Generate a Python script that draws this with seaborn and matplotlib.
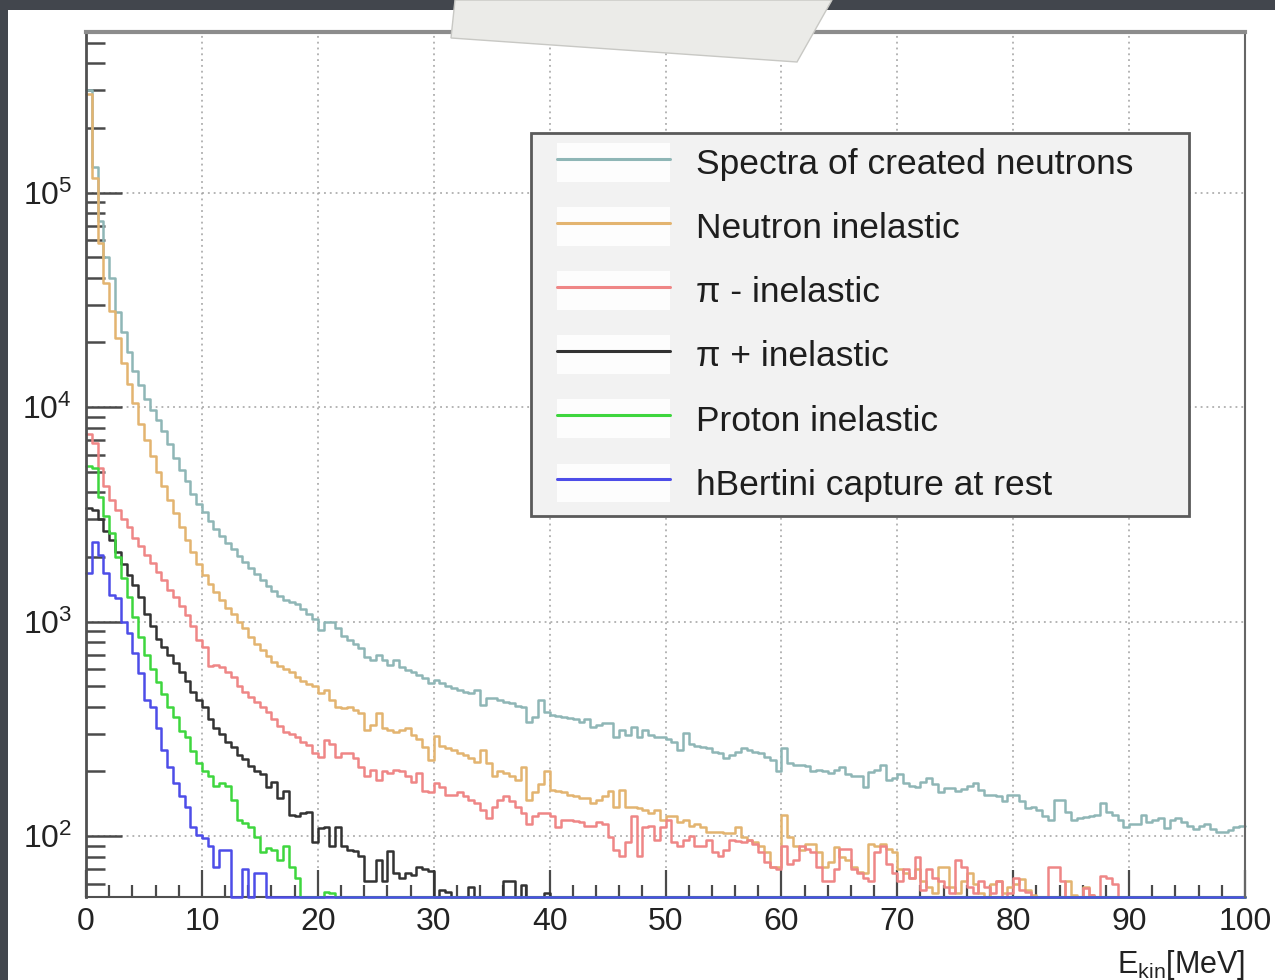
import numpy as np
import matplotlib
matplotlib.use("Agg")
import matplotlib.pyplot as plt
from matplotlib.patches import Rectangle, Polygon
from matplotlib.lines import Line2D
from matplotlib.legend_handler import HandlerTuple
from matplotlib.ticker import LogLocator, MultipleLocator, NullFormatter
import seaborn as sns

# ---------------------------------------------------------------
# Kinetic-energy spectra of neutrons, 0.5 MeV bins from 0 to 100 MeV
# (entries per bin; 0 = below the displayed range)
# ---------------------------------------------------------------
E_MIN, E_MAX, BIN_WIDTH = 0.0, 100.0, 0.5

created_neutrons = [
    300000, 131000, 74000, 50000, 40000, 27600, 22300, 18000, 14800, 12600,
    10900, 9700, 8700, 7700, 6700, 5800, 5100, 4500, 3950, 3550,
    3250, 2950, 2700, 2500, 2330, 2180, 2030, 1900, 1780, 1660,
    1560, 1470, 1390, 1310, 1260, 1240, 1210, 1140, 1090, 1030,
    912, 1000, 990, 930, 860, 819, 790, 750, 680, 661,
    700, 661, 628, 661, 616, 594, 580, 563, 546, 516,
    533, 516, 500, 489, 479, 470, 465, 479, 408, 440,
    440, 430, 420, 415, 405, 400, 340, 360, 430, 378,
    367, 363, 360, 357, 353, 340, 353, 322, 328, 335,
    335, 289, 312, 295, 322, 289, 312, 295, 289, 289,
    285, 275, 252, 302, 270, 262, 259, 256, 247, 244,
    230, 238, 247, 256, 252, 247, 244, 234, 226, 200,
    256, 219, 215, 215, 212, 200, 203, 200, 196, 203,
    210, 194, 190, 190, 170, 198, 203, 215, 183, 186,
    194, 177, 172, 170, 179, 186, 174, 160, 168, 168,
    162, 166, 172, 177, 164, 156, 156, 153, 145, 156,
    156, 145, 135, 137, 132, 124, 119, 147, 147, 130,
    119, 122, 123, 124, 126, 143, 130, 126, 119, 110,
    114, 114, 126, 116, 119, 122, 109, 119, 122, 116,
    112, 108, 112, 114, 108, 104, 104, 107, 110, 112,
]

neutron_inelastic = [
    289000, 117000, 58000, 38000, 28000, 21000, 16000, 12800, 10400, 8300,
    7000, 5900, 5000, 4300, 3700, 3200, 2750, 2400, 2100, 1850,
    1650, 1500, 1370, 1260, 1160, 1080, 1000, 930, 850, 790,
    740, 690, 650, 620, 600, 580, 550, 530, 510, 500,
    465, 479, 430, 400, 396, 400, 386, 373, 312, 328,
    373, 318, 312, 306, 312, 318, 295, 285, 259, 226,
    292, 263, 256, 252, 244, 238, 230, 221, 252, 219,
    190, 200, 197, 190, 183, 210, 147, 160, 175, 200,
    164, 162, 160, 156, 153, 151, 151, 143, 147, 153,
    162, 137, 164, 137, 137, 135, 132, 128, 132, 119,
    124, 124, 116, 119, 112, 114, 110, 104, 104, 104,
    103, 103, 110, 99, 96, 94, 90, 84, 72, 72,
    125, 99, 90, 86, 92, 92, 84, 72, 76, 89,
    80, 77, 72, 68, 67, 92, 90, 92, 87, 84,
    70, 67, 64, 70, 62, 58, 54, 72, 72, 58,
    54, 62, 67, 60, 54, 52, 60, 62, 54, 58,
    60, 63, 56, 53, 0, 0, 0, 0, 0, 62,
    53, 0, 58, 53, 0, 0, 0, 0, 0, 0,
    0, 0, 0, 0, 0, 0, 0, 0, 0, 0,
    0, 0, 0, 0, 0, 0, 0, 0, 0, 0,
]

pi_minus_inelastic = [
    7500, 6800, 5200, 4300, 3700, 3300, 3000, 2750, 2450, 2250,
    2050, 1880, 1700, 1560, 1400, 1300, 1180, 1070, 950, 820,
    760, 620, 630, 612, 580, 550, 500, 470, 445, 420,
    400, 380, 350, 325, 305, 300, 290, 275, 265, 245,
    233, 280, 270, 233, 244, 244, 230, 210, 190, 203,
    183, 200, 197, 203, 200, 190, 179, 197, 162, 160,
    177, 170, 155, 156, 160, 153, 147, 143, 132, 122,
    137, 147, 153, 145, 137, 128, 114, 124, 128, 128,
    124, 110, 119, 119, 118, 116, 112, 111, 116, 114,
    99, 86, 81, 94, 124, 81, 110, 112, 96, 110,
    119, 94, 90, 96, 100, 90, 90, 96, 84, 81,
    86, 96, 95, 94, 96, 92, 84, 76, 72, 70,
    90, 74, 77, 90, 87, 84, 72, 62, 62, 70,
    87, 87, 70, 67, 64, 62, 84, 90, 74, 67,
    62, 70, 64, 80, 56, 70, 64, 62, 58, 54,
    77, 72, 58, 54, 62, 58, 54, 62, 0, 54,
    64, 56, 55, 0, 0, 0, 72, 72, 62, 0,
    0, 0, 57, 53, 0, 65, 64, 60, 0, 0,
    0, 0, 0, 0, 0, 0, 0, 0, 0, 0,
    0, 0, 0, 0, 0, 0, 0, 0, 0, 0,
]

pi_plus_inelastic = [
    3400, 3300, 3000, 2650, 2400, 2100, 1850, 1650, 1480, 1300,
    1080, 950, 830, 760, 700, 640, 580, 530, 470, 430,
    400, 350, 320, 300, 275, 260, 240, 228, 212, 200,
    195, 170, 178, 150, 162, 126, 124, 128, 129, 94,
    109, 110, 90, 110, 90, 86, 85, 81, 62, 62,
    77, 62, 85, 67, 64, 67, 66, 72, 70, 69,
    0, 56, 55, 0, 0, 0, 58, 0, 0, 0,
    0, 0, 62, 62, 0, 59, 0, 0, 0, 54,
] + [0] * 120

proton_inelastic = [
    5300, 5200, 3800, 3100, 2600, 2000, 1600, 1300, 1050, 850,
    700, 600, 520, 460, 400, 360, 310, 290, 250, 220,
    200, 190, 171, 177, 171, 147, 119, 115, 110, 99,
    84, 88, 86, 77, 90, 72, 64, 0, 0, 0,
    0, 55, 54, 0, 0, 0, 0, 0, 0, 0,
] + [0] * 150

capture_at_rest = [
    1690, 2340, 2040, 1690, 1330, 1290, 990, 880, 710, 575,
    430, 400, 320, 252, 210, 177, 153, 137, 110, 101,
    98, 90, 72, 86, 86, 0, 0, 70, 0, 67,
    67, 0, 0, 0, 0, 0, 0, 0, 0, 0,
] + [0] * 160

series_names = [
    "Spectra of created neutrons",
    "Neutron inelastic",
    "\u03c0 - inelastic",
    "\u03c0 + inelastic",
    "Proton inelastic",
    "hBertini capture at rest",
]
series_values = [
    created_neutrons, neutron_inelastic, pi_minus_inelastic,
    pi_plus_inelastic, proton_inelastic, capture_at_rest,
]
series_colors = ["#8fb6b6", "#e3b470", "#ef8686", "#333333", "#3ed63e", "#4d4de8"]

x_tick_step, x_minor_step = 10, 2
Y_MIN, Y_MAX = 52, 5.6e5
x_label = r"$\mathregular{E_{kin}}$[MeV]"

# ---------------------------------------------------------------
sns.set_style("white")
plt.rcParams["font.family"] = ["Liberation Sans", "DejaVu Sans"]
plt.rcParams["mathtext.default"] = "regular"

W, H = 1275, 980
fig = plt.figure(figsize=(W / 100, H / 100), dpi=100)
fig.patch.set_facecolor("#42464d")

# slide canvas and the sheet of paper resting on its top edge
fig.add_artist(Rectangle((8 / W, 0), 1, 1 - 10 / H, transform=fig.transFigure,
                         facecolor="white", edgecolor="none", zorder=-5))
fig.add_artist(Polygon([(455 / W, 1.0), (832 / W, 1.0), (797 / W, 1 - 62 / H),
                        (451 / W, 1 - 38 / H)], closed=True,
                       transform=fig.transFigure, facecolor="#ebebe8",
                       edgecolor="#c8c8c4", lw=1.0, zorder=10))

ax = fig.add_axes([86 / W, 1 - 897 / H, (1245 - 86) / W, (897 - 32) / H])
ax.set_facecolor("white")

n_bins = len(created_neutrons)
centers = E_MIN + BIN_WIDTH * (np.arange(n_bins) + 0.5)

for name, values, color in zip(series_names, series_values, series_colors):
    # bins under the lower edge of the log axis are drawn on the frame
    shown = np.maximum(np.asarray(values, dtype=float), Y_MIN)
    sns.histplot(x=centers, weights=shown, bins=n_bins, binrange=(E_MIN, E_MAX),
                 element="step", fill=False, color=color, linewidth=1.8, ax=ax,
                 clip_on=False, label=name)

ax.set_yscale("log")
ax.set_xlim(E_MIN, E_MAX)
ax.set_ylim(Y_MIN, Y_MAX)
ax.set_ylabel("")

ax.xaxis.set_major_locator(MultipleLocator(x_tick_step))
ax.xaxis.set_minor_locator(MultipleLocator(x_minor_step))
ax.yaxis.set_major_locator(LogLocator(base=10, numticks=20))
ax.yaxis.set_minor_locator(LogLocator(base=10, subs=np.arange(2, 10), numticks=20))
ax.yaxis.set_minor_formatter(NullFormatter())

tick_color = "#4a4a4a"
ax.tick_params(which="both", left=True, bottom=True, top=False, right=False)
ax.tick_params(axis="y", which="major", direction="in", length=26, width=1.8,
               color=tick_color, pad=10, labelsize=23, labelcolor="#222222")
ax.tick_params(axis="y", which="minor", direction="in", length=13.5, width=1.8,
               color=tick_color)
ax.tick_params(axis="x", which="major", direction="in", length=19.5, width=1.6,
               color=tick_color, pad=7, labelsize=23, labelcolor="#222222")
ax.tick_params(axis="x", which="minor", direction="in", length=8.5, width=1.6,
               color=tick_color)

ax.set_axisbelow(True)
ax.grid(True, which="major", color="#a0a0a0", linestyle=(0, (1.2, 2.6)), linewidth=1.1)

ax.spines["left"].set(color="#505050", linewidth=2.0)
ax.spines["bottom"].set(color="#505050", linewidth=1.5, zorder=1.5)
ax.spines["top"].set(color="#8c8c8c", linewidth=3.0)
ax.spines["right"].set(color="#666666", linewidth=1.5)

ax.set_xlabel(x_label, loc="right", fontsize=22, labelpad=8, color="#222222")

# legend box with a pale sample box behind each line
ax.add_patch(Rectangle(((531 - 86) / 1159, (897 - 516) / 865),
                       (1189 - 531) / 1159, (516 - 133) / 865,
                       transform=ax.transAxes, facecolor="#f2f2f2",
                       edgecolor="#5a5a5a", linewidth=2.0, zorder=4))
handles = [(Rectangle((0, 0), 1, 1, facecolor="white", edgecolor="none", alpha=0.85),
            Line2D([], [], color=c, linewidth=2.2)) for c in series_colors]
ax.legend(handles, series_names, handler_map={tuple: HandlerTuple(ndivide=1)},
          loc="upper left", bbox_to_anchor=((557 - 86) / 1159, (897 - 143) / 865),
          borderaxespad=0, borderpad=0, frameon=False, fontsize=25.5,
          handlelength=3.2, handleheight=1.3, handletextpad=0.72,
          labelspacing=0.72, labelcolor="#1e1e1e")

fig.savefig("out.png", dpi=100, facecolor=fig.get_facecolor())
